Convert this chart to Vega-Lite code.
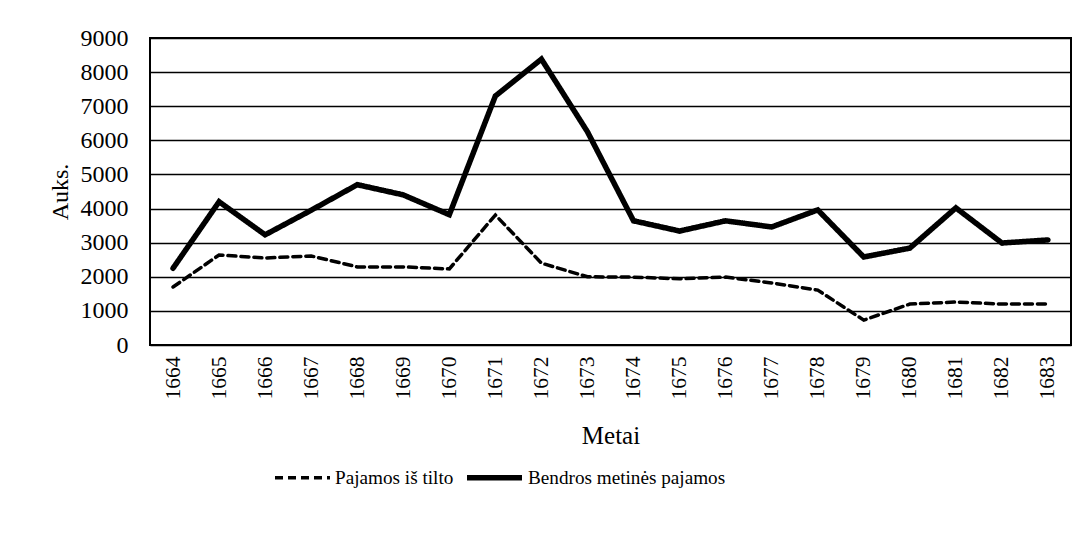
{
  "$schema": "https://vega.github.io/schema/vega-lite/v6.json",
  "width": 921,
  "height": 307,
  "autosize": {"type": "none"},
  "padding": {"left": 150, "top": 38, "right": 18, "bottom": 189},
  "background": "white",
  "config": {
    "font": "Liberation Serif",
    "view": {"stroke": "black", "strokeWidth": 2},
    "axis": {"labelColor": "black", "titleColor": "black", "titleFontWeight": "normal", "labelFont": "Liberation Serif", "titleFont": "Liberation Serif"},
    "legend": {"labelColor": "black", "labelFont": "Liberation Serif"}
  },
  "data": {
    "values": [
      {"year": "1664", "series": "Pajamos iš tilto", "value": 1700},
      {"year": "1665", "series": "Pajamos iš tilto", "value": 2640},
      {"year": "1666", "series": "Pajamos iš tilto", "value": 2550},
      {"year": "1667", "series": "Pajamos iš tilto", "value": 2610},
      {"year": "1668", "series": "Pajamos iš tilto", "value": 2290},
      {"year": "1669", "series": "Pajamos iš tilto", "value": 2290},
      {"year": "1670", "series": "Pajamos iš tilto", "value": 2230},
      {"year": "1671", "series": "Pajamos iš tilto", "value": 3810},
      {"year": "1672", "series": "Pajamos iš tilto", "value": 2400},
      {"year": "1673", "series": "Pajamos iš tilto", "value": 2000},
      {"year": "1674", "series": "Pajamos iš tilto", "value": 1990},
      {"year": "1675", "series": "Pajamos iš tilto", "value": 1940},
      {"year": "1676", "series": "Pajamos iš tilto", "value": 1990},
      {"year": "1677", "series": "Pajamos iš tilto", "value": 1820},
      {"year": "1678", "series": "Pajamos iš tilto", "value": 1610},
      {"year": "1679", "series": "Pajamos iš tilto", "value": 730},
      {"year": "1680", "series": "Pajamos iš tilto", "value": 1200},
      {"year": "1681", "series": "Pajamos iš tilto", "value": 1260},
      {"year": "1682", "series": "Pajamos iš tilto", "value": 1200},
      {"year": "1683", "series": "Pajamos iš tilto", "value": 1200},
      {"year": "1664", "series": "Bendros metinės pajamos", "value": 2250},
      {"year": "1665", "series": "Bendros metinės pajamos", "value": 4200},
      {"year": "1666", "series": "Bendros metinės pajamos", "value": 3230},
      {"year": "1667", "series": "Bendros metinės pajamos", "value": 3950},
      {"year": "1668", "series": "Bendros metinės pajamos", "value": 4700},
      {"year": "1669", "series": "Bendros metinės pajamos", "value": 4400},
      {"year": "1670", "series": "Bendros metinės pajamos", "value": 3820},
      {"year": "1671", "series": "Bendros metinės pajamos", "value": 7300},
      {"year": "1672", "series": "Bendros metinės pajamos", "value": 8380},
      {"year": "1673", "series": "Bendros metinės pajamos", "value": 6250},
      {"year": "1674", "series": "Bendros metinės pajamos", "value": 3640},
      {"year": "1675", "series": "Bendros metinės pajamos", "value": 3340},
      {"year": "1676", "series": "Bendros metinės pajamos", "value": 3640},
      {"year": "1677", "series": "Bendros metinės pajamos", "value": 3460},
      {"year": "1678", "series": "Bendros metinės pajamos", "value": 3960},
      {"year": "1679", "series": "Bendros metinės pajamos", "value": 2580},
      {"year": "1680", "series": "Bendros metinės pajamos", "value": 2840},
      {"year": "1681", "series": "Bendros metinės pajamos", "value": 4020},
      {"year": "1682", "series": "Bendros metinės pajamos", "value": 2990},
      {"year": "1683", "series": "Bendros metinės pajamos", "value": 3080}
    ]
  },
  "mark": {"type": "line", "color": "black", "strokeCap": "round", "strokeJoin": "miter"},
  "encoding": {
    "x": {
      "field": "year",
      "type": "ordinal",
      "axis": {
        "title": "Metai",
        "labelAngle": -90,
        "labelAlign": "right",
        "labelBaseline": "middle",
        "ticks": false,
        "domain": false,
        "grid": false,
        "labelFontSize": 21.5,
        "labelPadding": 11,
        "titleFontSize": 25,
        "titlePadding": 24
      }
    },
    "y": {
      "field": "value",
      "type": "quantitative",
      "scale": {"domain": [0, 9000], "nice": false},
      "axis": {
        "title": "Auks.",
        "values": [0, 1000, 2000, 3000, 4000, 5000, 6000, 7000, 8000, 9000],
        "format": "d",
        "ticks": false,
        "domain": false,
        "grid": true,
        "gridColor": "black",
        "gridWidth": 1.5,
        "gridOpacity": 1,
        "labelFontSize": 24,
        "labelPadding": 22,
        "titleFontSize": 24,
        "titlePadding": 8
      }
    },
    "strokeDash": {
      "field": "series",
      "type": "nominal",
      "scale": {"domain": ["Pajamos iš tilto", "Bendros metinės pajamos"], "range": [[8, 5], [1, 0]]},
      "legend": {
        "title": null,
        "orient": "none",
        "legendX": 123,
        "legendY": 409,
        "direction": "horizontal",
        "symbolType": "stroke",
        "symbolSize": 3025,
        "symbolStrokeColor": "black",
        "labelFontSize": 19.2,
        "labelLimit": 500,
        "labelOffset": 3,
        "columnPadding": 2
      }
    },
    "strokeWidth": {
      "field": "series",
      "type": "nominal",
      "scale": {"domain": ["Pajamos iš tilto", "Bendros metinės pajamos"], "range": [3.5, 5.5]},
      "legend": {
        "title": null,
        "orient": "none",
        "legendX": 123,
        "legendY": 409,
        "direction": "horizontal",
        "symbolType": "stroke",
        "symbolSize": 3025,
        "symbolStrokeColor": "black",
        "labelFontSize": 19.2,
        "labelLimit": 500,
        "labelOffset": 3,
        "columnPadding": 2
      }
    }
  }
}
